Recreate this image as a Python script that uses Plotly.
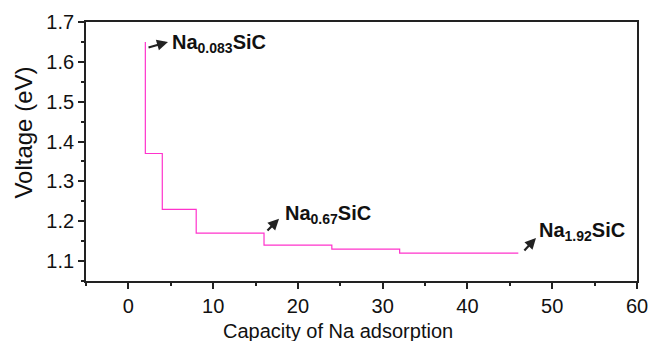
import plotly.graph_objects as go

capacity = [2, 2, 4, 8, 16, 24, 32, 46]
voltage = [1.65, 1.37, 1.23, 1.17, 1.14, 1.13, 1.12, 1.12]

labels = ["Na<sub>0.083</sub>SiC", "Na<sub>0.67</sub>SiC", "Na<sub>1.92</sub>SiC"]
label_x = [4.9, 18.2, 48.2]
label_y = [1.647, 1.216, 1.173]
arrow_tail_x = [2.2, 16.23, 46.55]
arrow_tail_y = [1.635, 1.173, 1.123]
arrow_head_x = [4.67, 17.77, 48.08]
arrow_head_y = [1.65, 1.206, 1.158]

x_title = "Capacity of Na adsorption"
y_title = "Voltage (eV)"

FONT = "Liberation Sans, Arial"

fig = go.Figure()
fig.add_trace(go.Scatter(x=capacity, y=voltage, mode="lines", line_shape="hv",
                         line=dict(color="#FF33CC", width=1.2), showlegend=False))

for i in range(3):
    fig.add_annotation(x=arrow_head_x[i], y=arrow_head_y[i], ax=arrow_tail_x[i], ay=arrow_tail_y[i],
                       xref="x", yref="y", axref="x", ayref="y", text="", showarrow=True,
                       arrowhead=2, arrowsize=1, arrowwidth=2.2, arrowcolor="#222222", standoff=0)
    fig.add_annotation(x=label_x[i], y=label_y[i], xref="x", yref="y", text="<b>" + labels[i] + "</b>",
                       showarrow=False, xanchor="left", yanchor="middle",
                       font=dict(family=FONT, size=20, color="#111111"))

# axis titles
fig.add_annotation(x=0.457, y=0, xref="paper", yref="paper", text=x_title, showarrow=False,
                   xanchor="center", yanchor="top", yshift=-37,
                   font=dict(family=FONT, size=20, color="#111111"))
fig.add_annotation(x=-0.1125, y=0.573, xref="paper", yref="paper", text=y_title, showarrow=False,
                   xanchor="center", yanchor="middle", textangle=-90,
                   font=dict(family=FONT, size=24, color="#111111"))

axis_common = dict(showline=True, linecolor="#222222", linewidth=1.8, mirror=True,
                   ticks="outside", ticklen=6, tickwidth=1.5, tickcolor="#222222",
                   showgrid=False, zeroline=False, automargin=False,
                   tickfont=dict(family=FONT, size=20, color="#111111"))

fig.update_xaxes(range=[-5, 60], tickvals=[0, 10, 20, 30, 40, 50, 60],
                 minor=dict(tickvals=[-5, 5, 15, 25, 35, 45, 55], ticks="outside", ticklen=3, tickwidth=1.5, tickcolor="#222222"),
                 **axis_common)
fig.update_yaxes(range=[1.05, 1.7], tickvals=[1.1, 1.2, 1.3, 1.4, 1.5, 1.6, 1.7], tickformat=".1f",
                 minor=dict(tickvals=[1.05, 1.15, 1.25, 1.35, 1.45, 1.55, 1.65], ticks="outside", ticklen=3, tickwidth=1.5, tickcolor="#222222"),
                 **axis_common)

fig.update_layout(width=651, height=341, margin=dict(l=86, r=14, t=22, b=60),
                  plot_bgcolor="white", paper_bgcolor="white")

fig.write_html("out.html")
